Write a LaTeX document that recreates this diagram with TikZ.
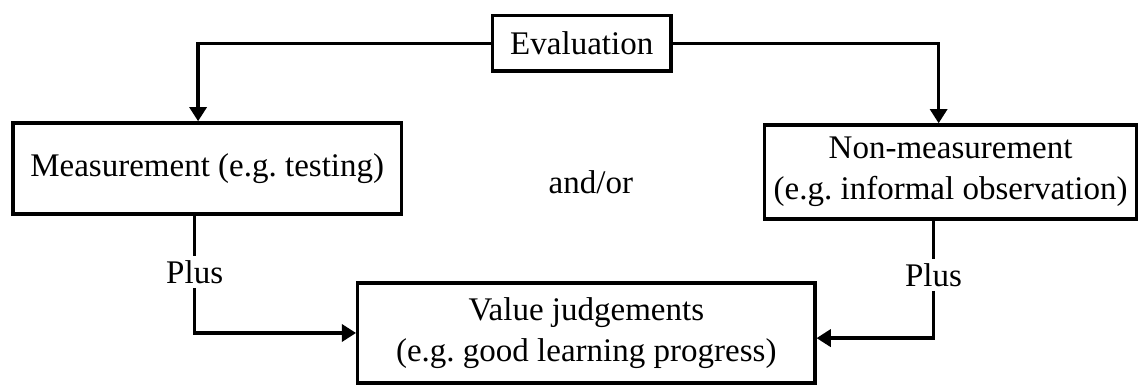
\documentclass[tikz,border=0pt]{standalone}
\usepackage{fontspec}
\setmainfont{Liberation Serif}
\usetikzlibrary{arrows.meta}

\begin{document}
\begin{tikzpicture}[
    font=\fontsize{16.5}{20.5}\selectfont\frenchspacing,
    box/.style={rectangle, draw=black, line width=1.7pt, align=center, inner sep=2pt},
    arrow/.style={-{Triangle[length=2.5mm, width=3mm]}, line width=1.7pt},
    link/.style={line width=1.7pt}
]
\useasboundingbox (0,0) rectangle (20.01,6.76);
\node[box, minimum width=3.14cm, minimum height=0.98cm] (eval) at (10.22,6.0) {Evaluation};
\node[box, minimum width=6.83cm, minimum height=1.6cm] (meas) at (3.64,3.8) {Measurement (e.g. testing)};
\node[box, minimum width=6.53cm, minimum height=1.65cm] (nonmeas) at (16.70,3.74) {Non-measurement\\(e.g. informal observation)};
\node[box, minimum width=8.03cm, minimum height=1.76cm] (value) at (10.30,0.91) {Value judgements\\(e.g. good learning progress)};
\node (andor) at (10.38,3.56) {and/or};
\node[inner sep=2pt] (plusl) at (3.42,1.98) {Plus};
\node[inner sep=2pt] (plusr) at (16.40,1.93) {Plus};
\draw[arrow] (eval) -| ([xshift=-0.16cm]meas.north);
\draw[arrow] (eval) -| ([xshift=-0.21cm]nonmeas.north);
\draw[link] (meas.south -| plusl) -- (plusl);
\draw[arrow] (plusl) |- (value.west);
\draw[link] (nonmeas.south -| plusr) -- (plusr);
\draw[arrow] (plusr) |- ([yshift=-0.09cm]value.east);
\end{tikzpicture}
\end{document}
